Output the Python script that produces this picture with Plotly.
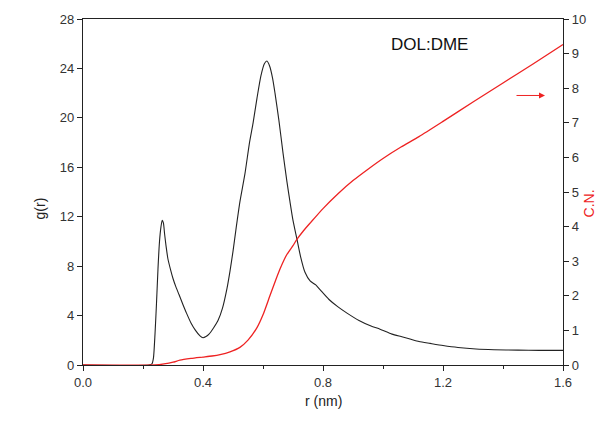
import plotly.graph_objects as go

# g(r) radial distribution function
r_g = [0.0, 0.22, 0.23, 0.235, 0.24, 0.245, 0.25, 0.255, 0.26, 0.264, 0.268, 0.272,
       0.277, 0.283, 0.292, 0.30, 0.31, 0.32, 0.333, 0.345, 0.36, 0.375, 0.39, 0.40,
       0.41, 0.42, 0.435, 0.45, 0.465, 0.48, 0.49, 0.50, 0.51, 0.523, 0.54, 0.555,
       0.567, 0.58, 0.593, 0.605, 0.613, 0.622, 0.632, 0.64, 0.653, 0.667, 0.68,
       0.69, 0.70, 0.713, 0.725, 0.74, 0.757, 0.775, 0.79, 0.82, 0.85, 0.88, 0.92,
       0.96, 0.99, 1.03, 1.06, 1.09, 1.12, 1.157, 1.2, 1.25, 1.31, 1.37, 1.45, 1.52, 1.6]
g_val = [0.0, 0.0, 0.1, 0.6, 2.5, 5.0, 7.8, 10.0, 11.2, 11.7, 11.5, 10.6,
         9.6, 8.6, 7.7, 7.0, 6.3, 5.7, 4.9, 4.2, 3.4, 2.8, 2.35, 2.2,
         2.3, 2.5, 3.0, 3.6, 4.6, 6.2, 7.6, 9.2, 11.0, 13.2, 15.5, 18.0,
         19.6, 21.6, 23.4, 24.4, 24.6, 24.2, 23.2, 22.0, 19.8, 17.1, 14.8,
         13.2, 11.7, 10.2, 8.8, 7.5, 6.8, 6.5, 6.1, 5.3, 4.7, 4.2, 3.6,
         3.15, 2.9, 2.5, 2.3, 2.1, 1.9, 1.75, 1.58, 1.42, 1.3, 1.24, 1.2, 1.18, 1.18]

# coordination number
r_cn = [0.0, 0.24, 0.27, 0.30, 0.323, 0.36, 0.40, 0.43, 0.457, 0.49, 0.523, 0.55,
        0.58, 0.60, 0.623, 0.64, 0.657, 0.68, 0.70, 0.713, 0.735, 0.76, 0.80, 0.85,
        0.90, 0.95, 1.0, 1.06, 1.12, 1.2, 1.3, 1.4, 1.5, 1.6]
cn_val = [0.0, 0.0, 0.03, 0.08, 0.14, 0.19, 0.23, 0.26, 0.30, 0.38, 0.51, 0.72,
          1.08, 1.45, 2.0, 2.4, 2.78, 3.2, 3.45, 3.63, 3.88, 4.13, 4.52, 4.95,
          5.33, 5.66, 5.97, 6.3, 6.6, 7.04, 7.6, 8.15, 8.7, 9.26]

x_ticks = [0.0, 0.4, 0.8, 1.2, 1.6]
g_ticks = [0, 4, 8, 12, 16, 20, 24, 28]
cn_ticks = list(range(0, 11))

FONT = "Liberation Sans, Arial, sans-serif"
TICKC = "#333333"

fig = go.Figure()
fig.add_trace(go.Scatter(x=r_g, y=g_val, mode="lines",
                         line=dict(color="#222222", width=1.1, shape="spline", smoothing=0.6),
                         showlegend=False))
fig.add_trace(go.Scatter(x=r_cn, y=cn_val, mode="lines", yaxis="y2",
                         line=dict(color="#ee2222", width=1.3, shape="spline", smoothing=0.6),
                         showlegend=False))

axis_common = dict(showgrid=False, zeroline=False, showline=True, linecolor="#222222",
                   linewidth=1.3, ticks="outside", tickcolor="#222222", ticklen=5,
                   tickwidth=1.2, tickfont=dict(family=FONT, size=13, color=TICKC))

fig.update_layout(
    width=610, height=430,
    margin=dict(l=83, r=47, t=12, b=65),
    paper_bgcolor="white", plot_bgcolor="white",
    xaxis=dict(range=[0, 1.6], tickvals=x_ticks, tickformat=".1f", mirror=True,
               minor=dict(tickvals=[0.2, 0.6, 1.0, 1.4], ticks="outside", ticklen=3,
                          tickcolor="#222222", tickwidth=1.2),
               **axis_common),
    yaxis=dict(range=[0, 28], tickvals=g_ticks, **axis_common),
    yaxis2=dict(range=[0, 10], tickvals=cn_ticks, overlaying="y", side="right",
                **axis_common),
    annotations=[
        dict(text="DOL:DME", x=1.02, y=25.9, xref="x", yref="y", xanchor="left",
             yanchor="middle", showarrow=False,
             font=dict(family=FONT, size=17, color="#111111")),
        dict(text="g(r)", x=-0.11, y=0.453, xref="paper", yref="paper", textangle=-90,
             showarrow=False, font=dict(family=FONT, size=14, color="#222222")),
        dict(text="C.N.", x=1.075, y=0.467, xref="paper", yref="paper", textangle=-90,
             showarrow=False, font=dict(family=FONT, size=14, color="#ee2222")),
        dict(text="r (nm)", x=0.5, y=-0.133, xref="paper", yref="paper",
             showarrow=False, font=dict(family=FONT, size=14, color="#222222")),
        dict(text="", x=1.54, y=7.79, xref="x", yref="y2", ax=1.44, ay=7.79,
             axref="x", ayref="y2", showarrow=True, arrowhead=2, arrowsize=1.2,
             arrowwidth=1, arrowcolor="#ee2222"),
    ],
)

fig.write_html("out.html")
